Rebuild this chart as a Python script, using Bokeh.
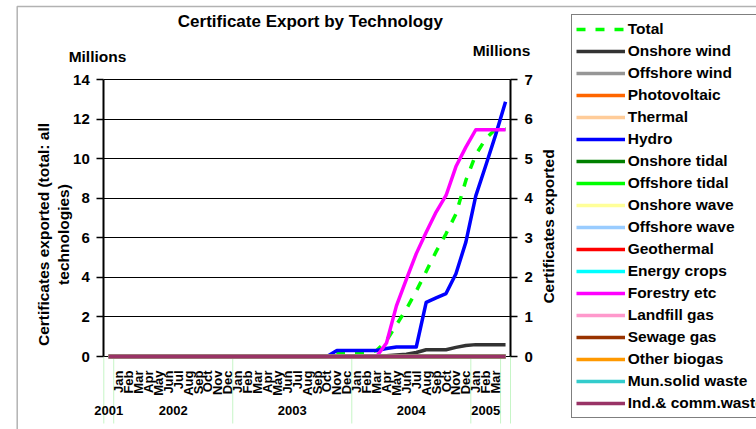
import math
from bokeh.plotting import figure
from bokeh.models import (Range1d, LinearAxis, FixedTicker, Legend, LegendItem,
                          Label, LinearScale, Grid, BoxAnnotation)
from bokeh.embed import file_html
from bokeh.resources import INLINE

# ---------------- data ----------------
MONTHS = ["Jan", "Feb", "Mar", "Apr", "May", "Jun", "Jul", "Aug", "Sep", "Oct", "Nov", "Dec"]
years = ["2001", "2002", "2003", "2004", "2005", ""]
months_per_year = [[""], MONTHS, MONTHS, MONTHS, ["Jan", "Feb", "Mar"], [""]]

left_ticks = [0, 2, 4, 6, 8, 10, 12, 14]
right_ticks = [0, 1, 2, 3, 4, 5, 6, 7]

# Total, left axis (millions)
total = [0, 0, 0, 0, 0, 0, 0, 0, 0, 0, 0, 0, 0,
         0, 0, 0, 0, 0, 0, 0, 0, 0, 0, 0.2, 0.2,
         0.2, 0.2, 0.3, 0.8, 1.6, 2.4, 3.3, 4.3, 5.3, 6.2, 7.2, 8.9,
         10.2, 11.0, 11.5, 11.5]
# right axis series (millions)
onshore_wind = [0, 0, 0, 0, 0, 0, 0, 0, 0, 0, 0, 0, 0,
                0, 0, 0, 0, 0, 0, 0, 0, 0, 0, 0, 0,
                0, 0, 0, 0.02, 0.04, 0.06, 0.1, 0.17, 0.17, 0.17, 0.23, 0.28,
                0.3, 0.3, 0.3, 0.3]
hydro = [0, 0, 0, 0, 0, 0, 0, 0, 0, 0, 0, 0, 0,
         0, 0, 0, 0, 0, 0, 0, 0, 0, 0, 0.15, 0.15,
         0.15, 0.15, 0.15, 0.2, 0.24, 0.24, 0.24, 1.37, 1.48, 1.59, 2.09, 2.89,
         4.06, 4.82, 5.6, 6.44]
forestry = [0, 0, 0, 0, 0, 0, 0, 0, 0, 0, 0, 0, 0,
            0, 0, 0, 0, 0, 0, 0, 0, 0, 0, 0, 0,
            0, 0, 0, 0.34, 1.28, 1.95, 2.6, 3.14, 3.65, 4.07, 4.8, 5.29,
            5.73, 5.73, 5.73, 5.73]
flat_zero = [0, 0, 0, 0, 0, 0, 0, 0, 0, 0, 0, 0, 0,
             0, 0, 0, 0, 0, 0, 0, 0, 0, 0, 0, 0,
             0, 0, 0, 0, 0, 0, 0, 0, 0, 0, 0, 0,
             0, 0, 0, 0]

series_names = ["Onshore wind", "Offshore wind", "Photovoltaic", "Thermal", "Hydro",
                "Onshore tidal", "Offshore tidal", "Onshore wave", "Offshore wave",
                "Geothermal", "Energy crops", "Forestry etc", "Landfill gas",
                "Sewage gas", "Other biogas", "Mun.solid waste", "Ind.& comm.waste"]
series_values = [onshore_wind, flat_zero, flat_zero, flat_zero, hydro,
                 flat_zero, flat_zero, flat_zero, flat_zero,
                 flat_zero, flat_zero, forestry, flat_zero,
                 flat_zero, flat_zero, flat_zero, flat_zero]
series_colors = ["#333333", "#969696", "#ff6600", "#ffcc99", "#0000ff",
                 "#008000", "#00ff00", "#ffff99", "#99ccff",
                 "#ff0000", "#00ffff", "#ff00ff", "#ff99cc",
                 "#993300", "#ff9900", "#33cccc", "#993366"]

FONT = "Liberation Sans"

# ---------------- layout (pixels) ----------------
W, H = 756, 429
PLOT_L, PLOT_R, PLOT_T, PLOT_B = 103.3, 510.0, 79.0, 356.0

month_text = [m for ms in months_per_year for m in ms]
n_cat = len(month_text)
x_pos = [i + 0.5 for i in range(n_cat)]
sep_ticks = [0]
for ms in months_per_year:
    sep_ticks.append(sep_ticks[-1] + len(ms))
year_centers = [(sep_ticks[i] + sep_ticks[i + 1]) / 2 for i in range(len(years)) if years[i]]
year_labels = [y for y in years if y]

ux = (PLOT_R - PLOT_L) / n_cat
uy = (PLOT_B - PLOT_T) / (left_ticks[-1] - left_ticks[0])
ratio = (right_ticks[-1] - right_ticks[0]) / (left_ticks[-1] - left_ticks[0])
y0 = -(H - PLOT_B) / uy
y1 = left_ticks[-1] + PLOT_T / uy

p = figure(width=W, height=H,
           x_range=Range1d(-PLOT_L / ux, n_cat + (W - PLOT_R) / ux),
           y_range=Range1d(y0, y1),
           output_backend="svg", toolbar_location=None,
           x_axis_location=None, y_axis_location=None,
           min_border=0, min_border_left=0, min_border_right=0,
           min_border_top=0, min_border_bottom=0,
           background_fill_color="white", border_fill_color="white",
           outline_line_color=None)
p.title.visible = False
p.xgrid.visible = False
p.ygrid.visible = False
p.extra_y_ranges = {"right": Range1d(y0 * ratio, y1 * ratio)}
p.extra_y_scales = {"right": LinearScale()}

# horizontal gridlines limited to the plot area
grid = Grid(dimension=1, ticker=FixedTicker(ticks=left_ticks),
            grid_line_color="black", grid_line_width=1)
if "cross_bounds" in Grid.properties():
    grid.cross_bounds = (0, n_cat)
    p.add_layout(grid)
else:
    p.segment(x0=[0] * len(left_ticks), y0=left_ticks, x1=[n_cat] * len(left_ticks),
              y1=left_ticks, line_color="black", line_width=1)

# ---------------- axes ----------------
yl = LinearAxis(fixed_location=0, bounds=(left_ticks[0], left_ticks[-1]),
                ticker=FixedTicker(ticks=left_ticks))
yr = LinearAxis(y_range_name="right", fixed_location=n_cat,
                bounds=(right_ticks[0], right_ticks[-1]),
                ticker=FixedTicker(ticks=right_ticks))
p.add_layout(yl, "left")
p.add_layout(yr, "right")
for ax in (yl, yr):
    ax.axis_line_color = "black"
    ax.axis_line_width = 2
    ax.major_tick_line_color = "black"
    ax.major_tick_line_width = 1.5
    ax.major_tick_out = 7
    ax.major_tick_in = 0
    ax.minor_tick_line_color = None
    ax.major_label_standoff = 7
    ax.major_label_text_font = FONT
    ax.major_label_text_font_style = "bold"
    ax.major_label_text_font_size = "15px"
    ax.major_label_text_color = "black"

# month axis
xa = LinearAxis(fixed_location=0, bounds=(0, n_cat), ticker=FixedTicker(ticks=x_pos))
xa.major_label_overrides = {x: m for x, m in zip(x_pos, month_text)}
xa.major_label_orientation = math.pi / 2
xa.axis_line_color = None
xa.major_tick_line_color = None
xa.major_tick_out = 0
xa.major_tick_in = 0
xa.minor_tick_line_color = None
xa.major_label_standoff = 14
xa.major_label_text_font = FONT
xa.major_label_text_font_style = "bold"
xa.major_label_text_font_size = "13px"
xa.major_label_text_color = "black"
p.add_layout(xa, "below")

# year axis
xb = LinearAxis(fixed_location=0, bounds=(0, n_cat), ticker=FixedTicker(ticks=year_centers))
xb.major_label_overrides = {x: y for x, y in zip(year_centers, year_labels)}
xb.axis_line_color = None
xb.major_tick_line_color = None
xb.major_tick_out = 0
xb.major_tick_in = 0
xb.minor_tick_line_color = None
xb.major_label_standoff = 49
xb.major_label_text_font = FONT
xb.major_label_text_font_style = "bold"
xb.major_label_text_font_size = "13px"
xb.major_label_text_color = "black"
p.add_layout(xb, "below")

# pale separators between the year groups
SEP_LEN_PX = 67
p.segment(x0=sep_ticks, y0=[0] * len(sep_ticks), x1=sep_ticks,
          y1=[-SEP_LEN_PX / uy] * len(sep_ticks), line_color="#c6f5c6", line_width=1)

# ---------------- series ----------------
items = []
r_total = p.line(x=x_pos, y=total, line_color="#00ff00", line_width=3.5,
                 line_dash="9 10", line_cap="butt")
items.append(LegendItem(label="Total", renderers=[r_total]))
for name, vals, col in zip(series_names, series_values, series_colors):
    r = p.line(x=x_pos, y=vals, line_color=col, line_width=3.5, line_join="round",
               y_range_name="right")
    items.append(LegendItem(label=name, renderers=[r]))

legend = Legend(items=items, location=(570.7, H - 417.7),
                label_text_font=FONT, label_text_font_style="bold",
                label_text_font_size="15.5px", label_text_color="black",
                label_height=20, glyph_height=20, glyph_width=49,
                label_standoff=3, spacing=2, padding=4, margin=0,
                border_line_color="black", border_line_width=1.5,
                background_fill_color="white", background_fill_alpha=1)
p.add_layout(legend, "center")

# ---------------- free texts (canvas pixel positions) ----------------
def add_label(text, x, y, size, align="center", angle=0.0):
    p.add_layout(Label(x=x, y=y, x_units="canvas", y_units="canvas", text=text,
                       text_font=FONT, text_font_style="bold", text_font_size=size,
                       text_align=align, text_baseline="middle", angle=angle,
                       text_color="black"))

add_label("Certificate Export by Technology", 177.3, 21.3, "17px", align="left")
add_label("Millions", 97, 56, "15.5px")
add_label("Millions", 501, 50, "15.5px")
add_label("Certificates exported (total: all\ntechnologies)", 53, 234, "15.5px",
          angle=math.pi / 2)
add_label("Certificates exported", 548, 226, "15.5px", angle=math.pi / 2)

# outer chart border (left and top edges visible)
p.add_layout(BoxAnnotation(left=16.7, right=W + 50, top=H - 6, bottom=-50,
                           left_units="screen", right_units="screen",
                           top_units="screen", bottom_units="screen",
                           fill_color=None, line_color="black", line_width=1.5))

open("out.html", "w").write(file_html(p, INLINE))
